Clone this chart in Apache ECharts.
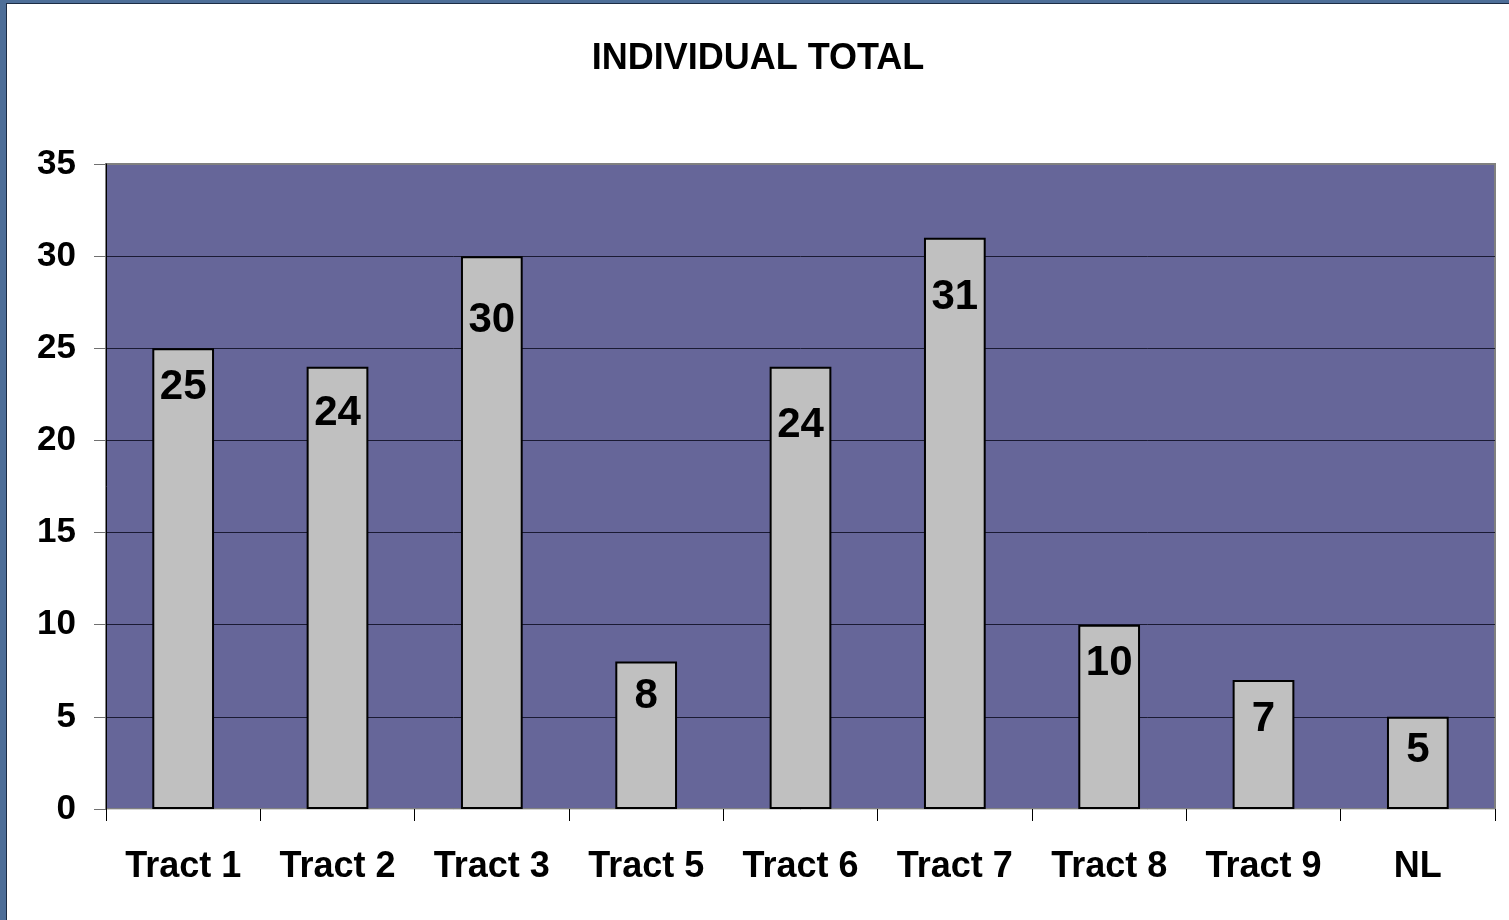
<!DOCTYPE html>
<html>
<head>
<meta charset="utf-8">
<script src="https://cdn.jsdelivr.net/npm/echarts@6/dist/echarts.min.js"></script>
<style>
  html, body { margin: 0; padding: 0; width: 1509px; height: 920px; overflow: hidden; }
  body { background: #4d6e98; }
  #chart {
    position: absolute; left: 6px; top: 3px; width: 1502px; height: 916px;
    background: #ffffff; border-left: 1px solid #1c2c44; border-top: 1px solid #1c2c44;
  }
</style>
</head>
<body>
<div id="chart"></div>
<script>
// data
const tracts = ["Tract 1", "Tract 2", "Tract 3", "Tract 5", "Tract 6", "Tract 7", "Tract 8", "Tract 9", "NL"];
const totals = [25, 24, 30, 8, 24, 31, 10, 7, 5];
const yTicks = [0, 5, 10, 15, 20, 25, 30, 35];

// labels were nudged by hand in the original, keep the look
const labelGap = [18, 26, 43, 14, 38, 39, 18, 18, 13];

const font = "'Liberation Sans', Arial, sans-serif";
let myChart = echarts.init(document.getElementById("chart"));
let option;
option = {
  animation: false,
  title: {
    text: "INDIVIDUAL TOTAL",
    left: "center",
    top: 37,
    padding: [0, 0, 0, 14],
    textStyle: { fontFamily: font, fontSize: 36, fontWeight: "bold", color: "#000" },
  },
  grid: {
    left: 99,
    top: 160,
    right: 14,
    bottom: 111,
    show: true,
    backgroundColor: "#666699",
    borderColor: "#808080",
    borderWidth: 2,
  },
  xAxis: {
    type: "category",
    data: tracts,
    axisLine: { lineStyle: { color: "#d4d4d4", width: 1 } },
    axisTick: { show: true, length: 12, lineStyle: { color: "#000" } },
    axisLabel: {
      margin: 40,
      fontFamily: font,
      fontSize: 36,
      fontWeight: "bold",
      color: "#000",
    },
  },
  yAxis: {
    type: "value",
    min: yTicks[0],
    max: yTicks[yTicks.length - 1],
    interval: 5,
    axisLine: { show: true, lineStyle: { color: "#000", width: 1 } },
    axisTick: { show: true, length: 12, lineStyle: { color: "#707070" } },
    axisLabel: {
      margin: 30,
      fontFamily: font,
      fontSize: 35,
      fontWeight: "bold",
      color: "#000",
    },
    splitLine: {
      show: true,
      lineStyle: {
        color: ["#1a1a33", "#1a1a33", "#1a1a33", "#1a1a33", "#1a1a33", "#1a1a33", "#1a1a33", "#808080"],
        width: 1,
      },
    },
  },
  series: [
    {
      type: "bar",
      barWidth: "40%",
      itemStyle: { color: "#c0c0c0", borderColor: "#000", borderWidth: 2 },
      label: {
        show: true,
        position: "insideTop",
        fontFamily: font,
        fontSize: 42,
        fontWeight: "bold",
        color: "#000",
      },
      data: totals.map((v, i) => ({ value: v, label: { distance: labelGap[i] } })),
    },
  ],
};
myChart.setOption(option);
</script>
</body>
</html>
